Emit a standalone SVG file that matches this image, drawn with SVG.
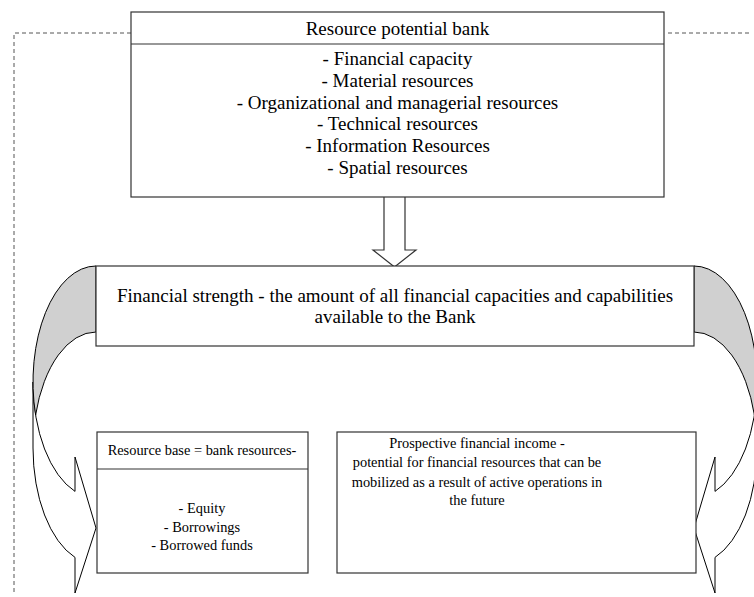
<svg xmlns="http://www.w3.org/2000/svg" width="754" height="597" viewBox="0 0 754 597">
<style>
  .box { fill: #ffffff; stroke: #333333; stroke-width: 1.2; }
  .sep { stroke: #333333; stroke-width: 1.2; fill: none; }
  .t { fill: #000000; text-anchor: middle; }
  .t18 { font-size: 19px; }
  .t16 { font-size: 14.4px; }
  .dash { fill: none; stroke: #555555; stroke-width: 1; stroke-dasharray: 4 3; }
  .back { fill: #d0d0d0; stroke: #000000; stroke-width: 1; }
  .front { fill: #ffffff; stroke: #000000; stroke-width: 1; }
  .arrow { fill: #ffffff; stroke: #333333; stroke-width: 1.2; }
</style>
<defs>
  <g id="curl">
    <path class="front" d="M 33 382 A 63 116 0 0 0 75 491.4 L 75 457 L 96 528 L 75 593 L 75 557.4 A 63 116 0 0 1 33 448 Z"/>
    <path class="back" d="M 96 266 A 63 116 0 0 0 35.6 415 A 63 116 0 0 1 96 332 Z"/>
  </g>
</defs>

<g id="connectors">
  <path class="dash" d="M 131 33 H 14 V 593"/>
  <path class="dash" d="M 668 33 H 752"/>
  <path id="down-arrow" class="arrow" d="M 384 197 V 250 H 373 L 394.5 267 L 416 250 H 405 V 197"/>
  <use id="curl-left" href="#curl"/>
  <use id="curl-right" href="#curl" transform="translate(790,0) scale(-1,1)"/>
</g>

<g font-family="Liberation Serif, DejaVu Serif, serif">
<g id="resource-potential-bank">
  <rect class="box" x="131" y="12" width="533" height="185"/>
  <line class="sep" x1="131" y1="44" x2="664" y2="44"/>
  <text class="t t18" x="397.5" y="35">Resource potential bank</text>
  <text class="t t18" x="397.5" y="65">- Financial capacity</text>
  <text class="t t18" x="397.5" y="86.8">- Material resources</text>
  <text class="t t18" x="397.5" y="108.6">- Organizational and managerial resources</text>
  <text class="t t18" x="397.5" y="130.4">- Technical resources</text>
  <text class="t t18" x="397.5" y="152.2">- Information Resources</text>
  <text class="t t18" x="397.5" y="174">- Spatial resources</text>
</g>

<g id="financial-strength">
  <rect class="box" x="96" y="266" width="598" height="80"/>
  <text class="t t18" x="395" y="302">Financial strength - the amount of all financial capacities and capabilities</text>
  <text class="t t18" x="395" y="323">available to the Bank</text>
</g>

<g id="resource-base">
  <rect class="box" x="97" y="432" width="211" height="141"/>
  <line class="sep" x1="97" y1="469" x2="308" y2="469"/>
  <text class="t t16" x="202" y="455">Resource base = bank resources-</text>
  <text class="t t16" x="202" y="513">- Equity</text>
  <text class="t t16" x="202" y="531.5">- Borrowings</text>
  <text class="t t16" x="202" y="550">- Borrowed funds</text>
</g>

<g id="prospective-income">
  <rect class="box" x="337" y="432" width="359" height="141"/>
  <text class="t t16" x="477" y="448">Prospective financial income -</text>
  <text class="t t16" x="477" y="467">potential for financial resources that can be</text>
  <text class="t t16" x="477" y="486.5">mobilized as a result of active operations in</text>
  <text class="t t16" x="477" y="505">the future</text>
</g>
</g>
</svg>
